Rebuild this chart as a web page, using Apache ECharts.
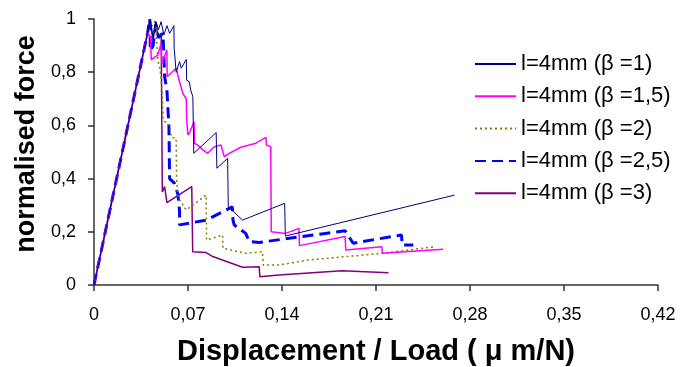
<!DOCTYPE html>
<html>
<head>
<meta charset="utf-8">
<script src="https://cdn.jsdelivr.net/npm/echarts@6/dist/echarts.min.js"></script>
<style>html,body{margin:0;padding:0;background:#fff;}#c{width:696px;height:367px;}</style>
</head>
<body>
<div id="c"></div>
<script>
const seriesNames = ['l=4mm (\u03b2 =1)', 'l=4mm (\u03b2 =1,5)', 'l=4mm (\u03b2 =2)', 'l=4mm (\u03b2 =2,5)', 'l=4mm (\u03b2 =3)'];
const xTickLabels = ['0', '0,07', '0,14', '0,21', '0,28', '0,35', '0,42'];
const yTickLabels = ['0', '0,2', '0,4', '0,6', '0,8', '1'];
const xTitle = 'Displacement / Load ( \u03bc m/N)';
const yTitle = 'normalised force';

const beta1 = [[0,0],[0.040,0.95],[0.042,1.0],[0.044,0.93],[0.046,0.99],[0.048,0.96],[0.050,0.99],[0.052,0.94],[0.0543,0.975],[0.0563,0.946],[0.0595,0.975],[0.0597,0.89],[0.0612,0.80],[0.0637,0.84],[0.065,0.815],[0.0687,0.848],[0.069,0.77],[0.071,0.764],[0.072,0.733],[0.0736,0.708],[0.0743,0.495],[0.091,0.573],[0.0915,0.439],[0.0995,0.476],[0.1,0.294],[0.1106,0.244],[0.142,0.307],[0.1425,0.184],[0.2686,0.338]];
const beta15 = [[0,0],[0.040,0.95],[0.042,0.93],[0.0427,0.846],[0.0476,0.865],[0.050,0.909],[0.0505,0.833],[0.0543,0.883],[0.0545,0.783],[0.0612,0.815],[0.0637,0.764],[0.0662,0.72],[0.0687,0.70],[0.0690,0.62],[0.0700,0.564],[0.0715,0.576],[0.0730,0.595],[0.0745,0.614],[0.0748,0.533],[0.0773,0.526],[0.081,0.508],[0.0847,0.495],[0.0896,0.52],[0.0946,0.526],[0.097,0.482],[0.1007,0.495],[0.1094,0.518],[0.1205,0.533],[0.128,0.555],[0.1285,0.526],[0.1316,0.52],[0.132,0.20],[0.1427,0.194],[0.1526,0.213],[0.153,0.148],[0.187,0.182],[0.1875,0.132],[0.2143,0.144],[0.2148,0.119],[0.26,0.134]];
const beta2 = [[0,0],[0.040,0.95],[0.044,0.98],[0.046,0.996],[0.0467,0.909],[0.0477,0.84],[0.049,0.815],[0.050,0.777],[0.051,0.70],[0.0515,0.62],[0.0563,0.60],[0.0575,0.556],[0.0612,0.55],[0.0615,0.40],[0.0625,0.33],[0.0687,0.282],[0.0736,0.30],[0.0835,0.338],[0.0838,0.169],[0.0958,0.188],[0.096,0.138],[0.113,0.119],[0.1254,0.125],[0.126,0.075],[0.1378,0.075],[0.16,0.094],[0.2143,0.119],[0.254,0.144]];
const beta25 = [[0,0],[0.040,0.95],[0.0415,1.0],[0.042,0.88],[0.044,0.90],[0.046,0.98],[0.048,0.93],[0.0513,0.946],[0.052,0.87],[0.0526,0.783],[0.0543,0.733],[0.0558,0.595],[0.0563,0.40],[0.0575,0.395],[0.0600,0.382],[0.0612,0.364],[0.0625,0.34],[0.0637,0.28],[0.0637,0.226],[0.0835,0.244],[0.103,0.294],[0.1035,0.244],[0.1044,0.226],[0.113,0.194],[0.1156,0.163],[0.123,0.16],[0.1723,0.194],[0.187,0.204],[0.193,0.157],[0.2217,0.182],[0.229,0.188],[0.2295,0.15],[0.2378,0.15]];
const beta3 = [[0,0],[0.040,0.95],[0.042,0.98],[0.044,0.92],[0.046,0.99],[0.048,0.93],[0.050,0.946],[0.0509,0.35],[0.0526,0.37],[0.0543,0.31],[0.0728,0.37],[0.0735,0.125],[0.0835,0.122],[0.0884,0.107],[0.1106,0.067],[0.123,0.069],[0.1235,0.031],[0.1378,0.038],[0.1847,0.054],[0.2193,0.046]];

const allData = [beta1, beta15, beta2, beta25, beta3];
const styles = [
  {color:'#000080', width:1, type:'solid'},
  {color:'#FF00FF', width:1.5, type:'solid'},
  {color:'#808000', width:1.5, type:[2,3]},
  {color:'#0000FF', width:3, type:[11,6]},
  {color:'#800080', width:1.5, type:'solid'}
];
const FONT = 'Liberation Sans, Arial, sans-serif';

const chart = echarts.init(document.getElementById('c'), null, {renderer:'canvas'});
chart.setOption({
  animation:false,
  backgroundColor:'#fff',
  grid:{left:94, right:38, top:19, bottom:82},
  legend:{
    orient:'vertical', left:469, top:48, itemWidth:41, itemHeight:14, itemGap:10.3,
    itemStyle:{opacity:0},
    textStyle:{fontFamily:FONT, fontSize:22, lineHeight:22, color:'#000'},
    data:seriesNames
  },
  graphic:[
    {type:'text', silent:true, x:376, y:352,
     style:{text:xTitle, fontFamily:FONT, fontSize:29, fontWeight:'bold', fill:'#000', textAlign:'center', textVerticalAlign:'middle'}},
    {type:'text', silent:true, x:27, y:144, rotation:Math.PI/2,
     style:{text:yTitle, fontFamily:FONT, fontSize:27, fontWeight:'bold', fill:'#000', textAlign:'center', textVerticalAlign:'middle'}}
  ],
  xAxis:{
    type:'value', min:0, max:0.42, interval:0.07,
    axisLine:{lineStyle:{color:'#333', width:1.5}},
    axisTick:{show:true, length:6, lineStyle:{color:'#333', width:1.5}},
    splitLine:{show:false},
    axisLabel:{fontFamily:FONT, fontSize:18, color:'#000', margin:21,
      formatter:(v)=>xTickLabels[Math.round(v/0.07)]}
  },
  yAxis:{
    type:'value', min:0, max:1, interval:0.2,
    axisLine:{show:true, lineStyle:{color:'#333', width:1.5}},
    axisTick:{show:true, length:6, lineStyle:{color:'#333', width:1.5}},
    splitLine:{show:false},
    axisLabel:{fontFamily:FONT, fontSize:18, color:'#000', margin:18,
      formatter:(v)=>yTickLabels[Math.round(v/0.2)]}
  },
  series: allData.map((d,i)=>({
    name:seriesNames[i], type:'line', data:d, symbol:'none', showSymbol:false,
    lineStyle:{color:styles[i].color, width:styles[i].width, type:styles[i].type},
    itemStyle:{color:styles[i].color}, z: 10 - i
  }))
});
</script>
</body>
</html>
